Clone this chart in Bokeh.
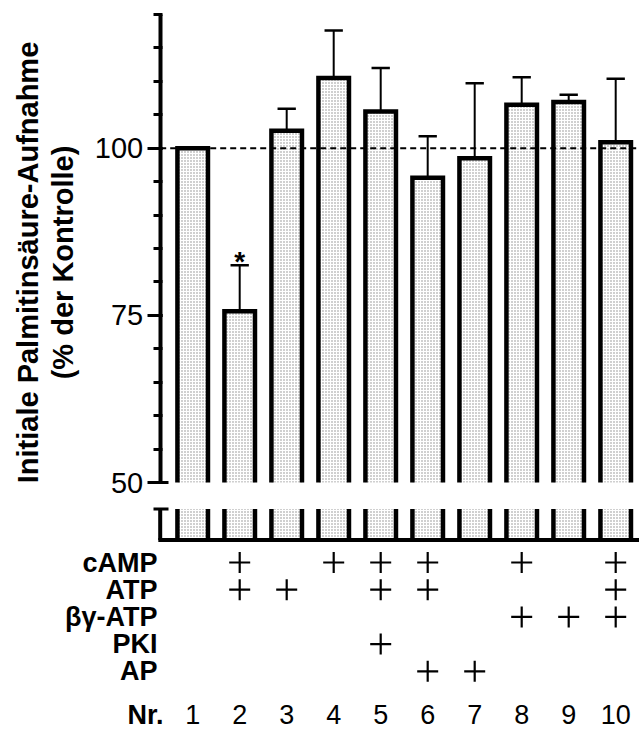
import math
from bokeh.plotting import figure
from bokeh.models import Range1d, FixedTicker, Label
from bokeh.core.properties import value
from bokeh.embed import file_html
from bokeh.resources import INLINE

# ---------------- data ----------------
groups = [1, 2, 3, 4, 5, 6, 7, 8, 9, 10]
group_labels = ["1", "2", "3", "4", "5", "6", "7", "8", "9", "10"]
uptake = [100.0, 75.6, 102.6, 110.5, 105.5, 95.6, 98.5, 106.5, 106.9, 100.9]
sem = [0.0, 6.9, 3.3, 7.1, 6.5, 6.2, 11.2, 4.1, 1.1, 9.5]
significance = ["", "*", "", "", "", "", "", "", "", ""]

treatments = ["cAMP", "ATP", "βγ-ATP", "PKI", "AP"]
cAMP = [0, 1, 0, 1, 1, 1, 0, 1, 0, 1]
ATP = [0, 1, 1, 0, 1, 1, 0, 0, 0, 1]
bg_ATP = [0, 0, 0, 0, 0, 0, 0, 1, 1, 1]
PKI = [0, 0, 0, 0, 1, 0, 0, 0, 0, 0]
AP = [0, 0, 0, 0, 0, 1, 1, 0, 0, 0]
treatment_flags = [cAMP, ATP, bg_ATP, PKI, AP]
number_label = "Nr."

y_ticks = [50, 75, 100]
y_minor_ticks = [50, 55, 60, 65, 70, 75, 80, 85, 90, 95, 100, 105, 110, 115, 120]
y_low, y_high = 50, 120
reference_level = 100
y_title = ["Initiale Palmitinsäure-Aufnahme", "(% der Kontrolle)"]

# ---------------- layout (pixels of the page) ----------------
FONT = "Liberation Sans"
W, H = 639, 731
AXIS_TOP_PX, AXIS_50_PX = 14, 482
BAR1_PX, X_STEP = 192.2, 47.0
K = (AXIS_50_PX - AXIS_TOP_PX) / (y_high - y_low)   # px per value unit
ROW0_PX, ROW_STEP = 562.0, 27.2


def x_at(px):
    return 1 + (px - BAR1_PX) / X_STEP


def v_at(py):
    return y_high - (py - AXIS_TOP_PX) / K


def row_at(py):
    return (py - ROW0_PX) / ROW_STEP


AXIS_X = x_at(159.7)
STUB_TOP = v_at(508.5)
STUB_BOTTOM = v_at(539.5)
BAR_W = 0.65
CAP_W = 0.39

p = figure(width=W, height=H, output_backend="svg", toolbar_location=None,
           x_axis_location=None,
           x_range=Range1d(x_at(0), x_at(W)),
           y_range=Range1d(v_at(H), v_at(0)),
           min_border_left=0, min_border_right=0,
           min_border_top=0, min_border_bottom=0)
p.extra_y_ranges = {"rows": Range1d(row_at(H), row_at(0))}
p.outline_line_color = None
p.xgrid.visible = False
p.ygrid.visible = False
p.background_fill_color = "white"
p.border_fill_color = "white"

lefts = [g - BAR_W / 2 for g in groups]
rights = [g + BAR_W / 2 for g in groups]

hatch = dict(fill_color="white", hatch_pattern="dot", hatch_scale=3,
             hatch_color="#8a8a8a", line_color=None)

# upper bar parts (from 50 up to value)
p.quad(left=lefts, right=rights, bottom=[y_low] * len(groups), top=uptake, **hatch)
p.multi_line(xs=[[l, l, r, r] for l, r in zip(lefts, rights)],
             ys=[[y_low, v, v, y_low] for v in uptake],
             line_color="black", line_width=4.5, line_join="miter")

# lower stub of the bars below the axis break
p.quad(left=lefts, right=rights, bottom=[STUB_BOTTOM] * len(groups),
       top=[STUB_TOP] * len(groups), **hatch)
p.segment(x0=lefts + rights, y0=[STUB_BOTTOM] * 20, x1=lefts + rights,
          y1=[STUB_TOP] * 20, line_color="black", line_width=4.5)

# error bars (upper only)
eg = [g for g, e in zip(groups, sem) if e > 0]
ev = [v for v, e in zip(uptake, sem) if e > 0]
et = [v + e for v, e in zip(uptake, sem) if e > 0]
p.segment(x0=eg, y0=ev, x1=eg, y1=et, line_color="black", line_width=2)
p.segment(x0=[g - CAP_W / 2 for g in eg], y0=et, x1=[g + CAP_W / 2 for g in eg],
          y1=et, line_color="black", line_width=2.5)

# significance marks
sg = [g for g, s in zip(groups, significance) if s]
st = [v + e for v, e, s in zip(uptake, sem, significance) if s]
p.text(x=sg, y=st, text=[s for s in significance if s], text_align="center",
       text_baseline="alphabetic", y_offset=-4, text_font=value(FONT),
       text_font_style="bold", text_font_size="28px", text_color="black")

# reference dashed line
p.segment(x0=[AXIS_X], y0=[reference_level], x1=[x_at(W)], y1=[reference_level],
          line_color="black", line_width=2, line_dash="6 4")

# broken part of the axis
p.segment(x0=[AXIS_X], y0=[STUB_BOTTOM], x1=[AXIS_X], y1=[STUB_TOP],
          line_color="black", line_width=4)
p.segment(x0=[AXIS_X, x_at(153)], y0=[y_low, STUB_TOP], x1=[x_at(168)] * 2,
          y1=[y_low, STUB_TOP], line_color="black", line_width=3)
p.segment(x0=[AXIS_X - 0.04], y0=[STUB_BOTTOM], x1=[x_at(W)], y1=[STUB_BOTTOM],
          line_color="black", line_width=4)

ax = p.yaxis[0]
ax.fixed_location = AXIS_X
ax.bounds = (y_low, y_high)
ax.ticker = FixedTicker(ticks=y_ticks, minor_ticks=y_minor_ticks)
ax.axis_line_color = "black"
ax.axis_line_width = 4
ax.major_tick_out = 13
ax.major_tick_in = 2
ax.minor_tick_out = 7
ax.minor_tick_in = 2
ax.major_tick_line_width = 3
ax.minor_tick_line_width = 3
ax.major_tick_line_color = "black"
ax.minor_tick_line_color = "black"
ax.major_label_standoff = 4
ax.major_label_text_font = FONT
ax.major_label_text_font_size = "29px"
ax.major_label_text_color = "black"

# y title (two lines, rotated)
for txt, cx in zip(y_title, [27, 62]):
    p.add_layout(Label(x=x_at(cx), y=row_at(262), y_range_name="rows", text=txt,
                       angle=math.pi / 2, text_align="center", text_baseline="middle",
                       text_font=FONT, text_font_style="bold", text_font_size="29px",
                       text_color="black"))

# treatment table
for i, (name, flags) in enumerate(zip(treatments, treatment_flags)):
    p.add_layout(Label(x=x_at(157), y=i, y_range_name="rows", text=name,
                       text_align="right", text_baseline="middle", text_font=FONT,
                       text_font_style="bold", text_font_size="27px", text_color="black"))
    xs = [g for g, f in zip(groups, flags) if f]
    p.scatter(x=xs, y=[i] * len(xs), y_range_name="rows", marker="cross", size=21,
              line_width=2.2, line_color="black")

NR_ROW = row_at(714)
p.add_layout(Label(x=x_at(163), y=NR_ROW, y_range_name="rows", text=number_label,
                   text_align="right", text_baseline="middle", text_font=FONT,
                   text_font_style="bold", text_font_size="27px", text_color="black"))
p.text(x=groups, y=[NR_ROW] * len(groups), text=group_labels, y_range_name="rows",
       text_align="center", text_baseline="middle", text_font=value(FONT),
       text_font_size="27px", text_color="black")

open("out.html", "w").write(file_html(p, INLINE))
